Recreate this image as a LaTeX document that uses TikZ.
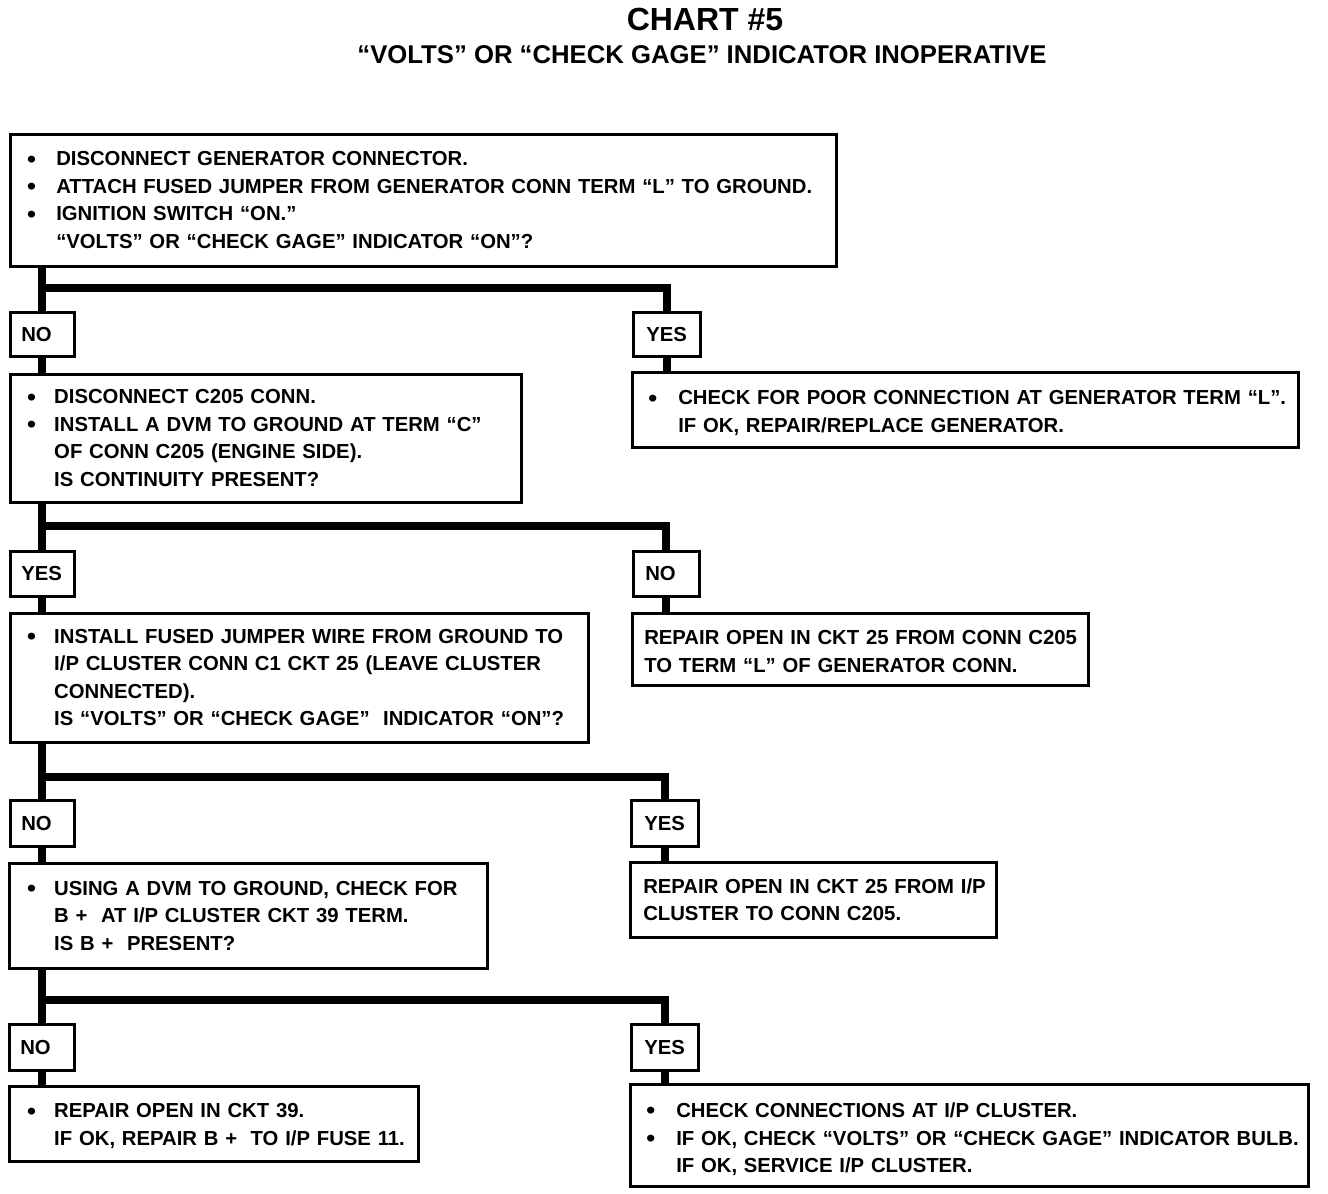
\documentclass[tikz,border=0pt]{standalone}
\usepackage{fontspec}
\usepackage{graphicx}
\setmainfont{Liberation Sans}
\usetikzlibrary{calc}
\setlength{\parindent}{0pt}
\newcommand\bul[1]{\makebox[#1][l]{\hspace*{1pt}\raisebox{-1.3pt}{\scalebox{1.25}[1.18]{\textbullet}}}}
\newcommand\bline[2]{\mbox{\bul{#1}#2}}
\newcommand\iline[2]{\mbox{\hspace*{#1}#2}}
\newcommand\lift[1]{\rule{0pt}{#1}}
\tikzset{
  box/.style={draw, line width=2.5pt, inner ysep=0pt, anchor=north west, align=left,
    font=\bfseries\fontsize{20.3}{27.5}\selectfont},
  trunk/.style={line width=8pt, line join=miter},
}
\begin{document}
\begin{tikzpicture}[x=1pt,y=-1pt]
\useasboundingbox (0,0) rectangle (1328,1194);
% titles
\node[anchor=base, inner sep=0pt, font=\bfseries\fontsize{32}{38}\selectfont] (title) at (705,30) {CHART \#5};
\node[anchor=base, inner sep=0pt, font=\bfseries\fontsize{25.7}{30}\selectfont] (subtitle) at (702,63) {“VOLTS” OR “CHECK GAGE” INDICATOR INOPERATIVE};
% level 1
\node[box, inner xsep=16pt, text width=794pt, minimum height=132pt] (b1) at (9,133)
 {\bline{30pt}{DISCONNECT GENERATOR CONNECTOR.}\\
  \bline{30pt}{ATTACH FUSED JUMPER FROM GENERATOR CONN TERM “L” TO GROUND.}\\
  \bline{30pt}{IGNITION SWITCH “ON.”}\\
  \iline{30pt}{“VOLTS” OR “CHECK GAGE” INDICATOR “ON”?}};
\coordinate (j1) at (0,288);
\node[box, inner xsep=11pt, text width=42pt, minimum height=44pt] (no1) at (9,311) {NO};
\node[box, inner xsep=13pt, text width=41pt, minimum height=44pt] (yes1) at (632,311) {YES};
\node[box, inner xsep=16pt, text width=479pt, minimum height=128pt] (b2) at (9,373)
 {\bline{28pt}{DISCONNECT C205 CONN.}\\
  \bline{28pt}{INSTALL A DVM TO GROUND AT TERM “C”}\\
  \iline{28pt}{OF CONN C205 (ENGINE SIDE).}\\
  \iline{28pt}{IS CONTINUITY PRESENT?}};
\node[box, inner xsep=15pt, text width=636pt, minimum height=75pt] (br1) at (631,371)
 {\lift{20.7pt}\bline{31pt}{CHECK FOR POOR CONNECTION AT GENERATOR TERM “L”.}\\
  \iline{31pt}{IF OK, REPAIR/REPLACE GENERATOR.}};
% level 2
\coordinate (j2) at (0,526);
\node[box, inner xsep=11pt, text width=42pt, minimum height=45pt] (yes2) at (9,550) {YES};
\node[box, inner xsep=12pt, text width=42pt, minimum height=45pt] (no2) at (632,550) {NO};
\node[box, inner xsep=16pt, text width=546pt, minimum height=129pt] (b3) at (9,612)
 {\bline{28pt}{INSTALL FUSED JUMPER WIRE FROM GROUND TO}\\
  \iline{28pt}{I/P CLUSTER CONN C1 CKT 25 (LEAVE CLUSTER}\\
  \iline{28pt}{CONNECTED).}\\
  \iline{28pt}{IS “VOLTS” OR “CHECK GAGE”\ \ INDICATOR “ON”?}};
\node[box, inner xsep=12pt, text width=432pt, minimum height=72pt] (br2) at (631,612)
 {\lift{18.7pt}\mbox{REPAIR OPEN IN CKT 25 FROM CONN C205}\\
  \mbox{TO TERM “L” OF GENERATOR CONN.}};
% level 3
\coordinate (j3) at (0,777);
\node[box, inner xsep=11pt, text width=42pt, minimum height=46pt] (no3) at (9,799) {NO};
\node[box, inner xsep=13pt, text width=41pt, minimum height=46pt] (yes3) at (630,799) {YES};
\node[box, inner xsep=17pt, text width=444pt, minimum height=105pt] (b4) at (8,862)
 {\bline{28pt}{USING A DVM TO GROUND, CHECK FOR}\\
  \iline{28pt}{B +\ \ AT I/P CLUSTER CKT 39 TERM.}\\
  \iline{28pt}{IS B +\ \ PRESENT?}};
\node[box, inner xsep=13pt, text width=340pt, minimum height=75pt] (br3) at (629,861)
 {\mbox{REPAIR OPEN IN CKT 25 FROM I/P}\\
  \mbox{CLUSTER TO CONN C205.}};
% level 4
\coordinate (j4) at (0,1000);
\node[box, inner xsep=11pt, text width=43pt, minimum height=46pt] (no4) at (8,1023) {NO};
\node[box, inner xsep=13pt, text width=41pt, minimum height=46pt] (yes4) at (630,1023) {YES};
\node[box, inner xsep=17pt, text width=375pt, minimum height=75pt] (b5) at (8,1085)
 {\lift{18.7pt}\bline{28pt}{REPAIR OPEN IN CKT 39.}\\
  \iline{28pt}{IF OK, REPAIR B +\ \ TO I/P FUSE 11.}};
\node[box, inner xsep=15pt, text width=648pt, minimum height=102pt] (br4) at (629,1083)
 {\lift{22.7pt}\bline{31pt}{CHECK CONNECTIONS AT I/P CLUSTER.}\\
  \bline{31pt}{IF OK, CHECK “VOLTS” OR “CHECK GAGE” INDICATOR BULB.}\\
  \iline{31pt}{IF OK, SERVICE I/P CLUSTER.}};
% connectors
\draw[trunk] (b1.south -| no1.north) -- (no1.north);
\draw[trunk] (j1 -| no1.north) -| (yes1.north);
\draw[trunk] (no1.south) -- (no1.south |- b2.north);
\draw[trunk] (yes1.south) -- (yes1.south |- br1.north);
\draw[trunk] (b2.south -| yes2.north) -- (yes2.north);
\draw[trunk] (j2 -| yes2.north) -| (no2.north);
\draw[trunk] (yes2.south) -- (yes2.south |- b3.north);
\draw[trunk] (no2.south) -- (no2.south |- br2.north);
\draw[trunk] (b3.south -| no3.north) -- (no3.north);
\draw[trunk] (j3 -| no3.north) -| (yes3.north);
\draw[trunk] (no3.south) -- (no3.south |- b4.north);
\draw[trunk] (yes3.south) -- (yes3.south |- br3.north);
\draw[trunk] (b4.south -| no4.north) -- (no4.north);
\draw[trunk] (j4 -| no4.north) -| (yes4.north);
\draw[trunk] (no4.south) -- (no4.south |- b5.north);
\draw[trunk] (yes4.south) -- (yes4.south |- br4.north);
\end{tikzpicture}
\end{document}
